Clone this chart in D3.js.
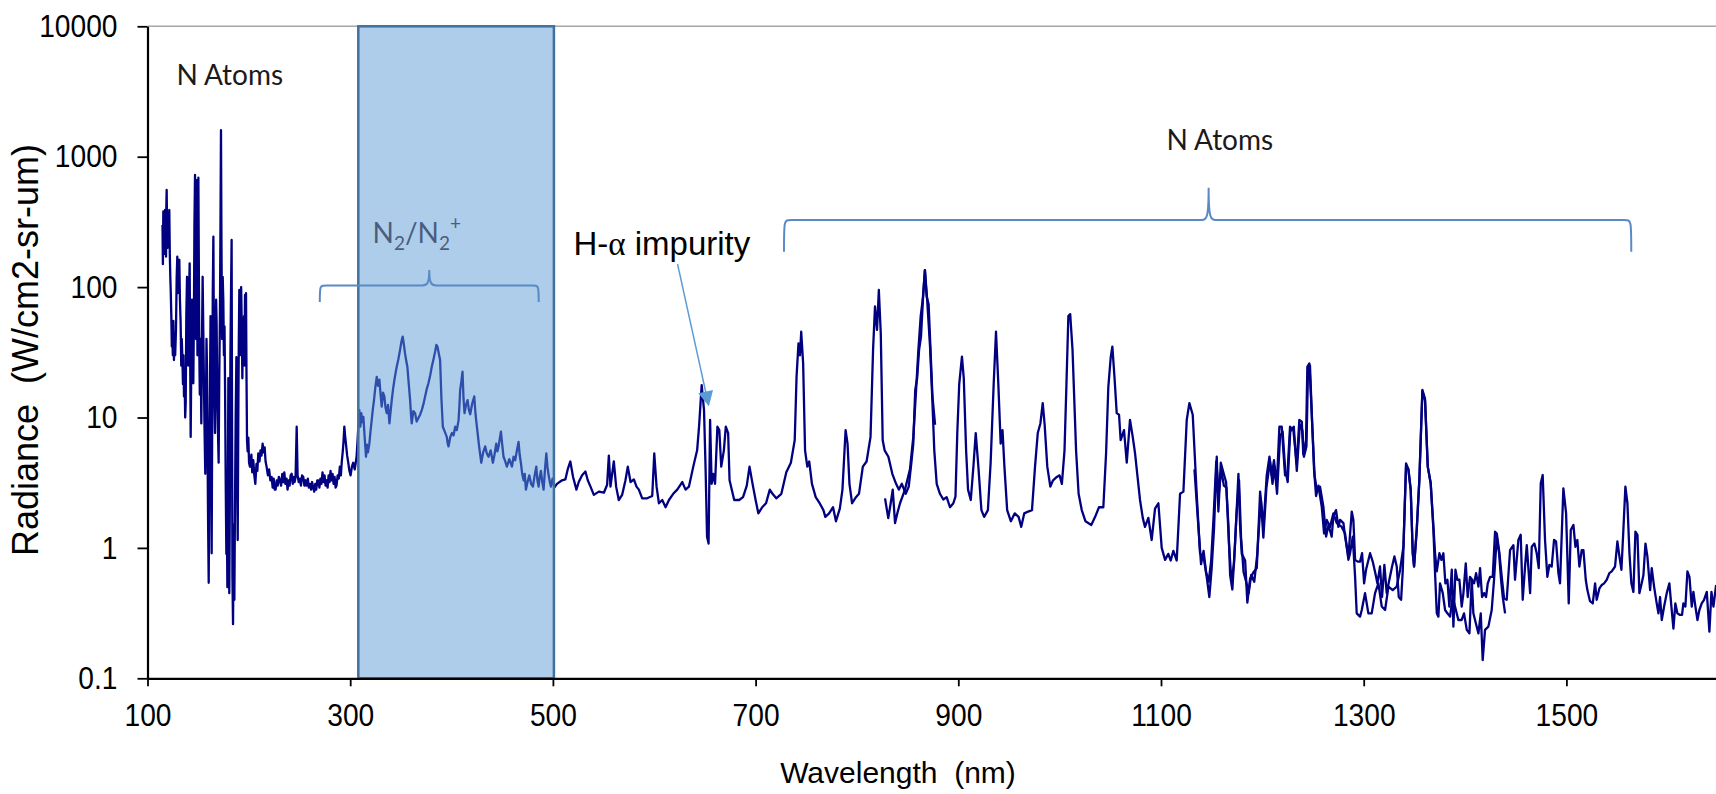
<!DOCTYPE html>
<html>
<head>
<meta charset="utf-8">
<script src="https://cdn.jsdelivr.net/npm/d3@7"></script>
<style>
  body { margin: 0; background: #fff; }
  svg { display: block; }
  text { font-family: "Liberation Sans", Arial, sans-serif; }
</style>
</head>
<body>
<svg id="chart" width="1716" height="794"></svg>
<script>
// spectrum pieces, [wavelength nm, radiance W/cm2-sr-um]
const segA = [
  [114.8,300],[115.2,150],[115.6,380],[116,210],[116.5,330],[117,180],[117.3,390],[117.8,240],[118.3,171],
  [118.6,420],[118.9,556],[119.3,300],[119.8,200],[120.3,360],[120.8,260],[121.5,390],[122,180],[122.5,120],
  [122.9,95],[123.5,60],[124,35],[124.5,42],[125,30],[125.5,55],[126.1,27.6],[126.7,45],[127.3,30],[128.1,47],
  [128.8,120],[129.4,171],[130,90],[130.6,150],[131.4,162],[132,80],[132.7,53],[133.3,25],[133.8,40],[134.4,29],
  [135,18],[135.5,30],[136,14.5],[136.5,22],[137.2,10],[137.7,12.9],[138.3,60],[139,120],[139.6,70],[140.1,25],
  [140.6,42],[141.1,100],[141.6,152],[142.1,30],[142.6,7.1],[143.2,25],[143.9,80],[144.5,40],[145.2,18.3],
  [145.8,60],[146.3,300],[146.9,725],[147.3,120],[147.8,40],[148.5,660],[149,80],[149.3,30],[149.7,200],
  [150.2,690],[150.7,120],[151.1,33],[151.6,15],[152.2,40],[152.7,20],[153.1,9],[153.6,30],[154.4,120],
  [155,50],[155.7,18],[156.3,8],[157,3.7],[157.6,10],[158.2,40],[158.7,24.6],[159.3,5],[159.8,1.5],[160.4,0.54],
  [161,5],[161.7,18],[162.2,60],[162.7,6],[163.3,0.91],[163.8,8],[164.4,90],[165,244],[165.5,40],[166,15],
  [166.6,7.6],[167.2,30],[167.7,80],[168.2,53],[168.8,15],[169.5,8],[170.2,4.5],[170.8,20],[171.5,63],
  [172,300],[172.5,1600],[173,200],[173.6,40],[174.2,120],[174.8,80],[175.4,30],[176,50],[176.5,18],[177.2,3],
  [177.8,0.9],[178.3,2],[178.8,0.5],[179.3,3],[179.8,20],[180.2,5],[180.7,0.45],[181.2,2],[181.8,30],[182.4,90],
  [183,230],[183.4,10],[183.8,0.6],[184.4,0.26],[185,1.5],[185.7,0.4],[186.3,2],[187,10],[187.7,29],[188.3,5],
  [189,1.15],[189.6,10],[190.1,40],[190.6,95],[191.2,30],[191.8,60],[192.4,100],[193,50],[193.6,20],[194.1,45],
  [194.6,33],[195.2,60],[195.7,25],[196.2,87],[196.7,40],[197.2,90],[197.7,20],[198.2,6.7],[198.8,5.5],
  [199.5,7],[200.2,4.5],
  [201.1,4.2],[202.5,5.2],[203.3,3.8],[204.4,4.7],[205.4,3.6],[206.4,3.1],[207.5,4.4],[208.4,3.9],[209.3,5.3],
  [210.5,4.6],[211.5,5.6],[212.5,5.1],[213.6,6.3],[214.6,5.4],[215.6,5.9],[216.5,4.6],[217.5,4.2],[218.8,3.6],
  [220,4.0],[221.2,3.3],[222.5,3.5],[223.5,2.9],[224.5,3.4],[225.5,2.8],[226.4,2.8],[227.5,3.3],[228.5,3.0],
  [229.6,3.5],[230.7,3.3],[231.8,3.0],[233,3.7],[234,3.2],[235,3.8],[236,3.1],[237.2,3.4],[238.2,2.8],
  [239.2,3.3],[240.2,3.0],[241.2,3.6],[242.2,3.7],[243.3,3.1],[244.3,3.5],[245.2,3.2],[246.1,3.5],[247.2,8.5],
  [248.1,3.6],[249.2,3.2],[250.3,3.4],[251.4,3.0],[252.5,3.6],[253.7,3.5],[254.8,3.0],[255.9,3.3],[257,3.0],
  [258.2,3.4],[259.2,2.9],[260.3,3.1],[261.4,2.8],[262.4,3.2],[263.5,2.9],[264.5,2.7],[265.5,3.1],[266.5,2.8],
  [267.5,3.3],[268.5,3.3],[269.6,2.9],[270.6,3.4],[271.6,3.1],[272.7,3.8],[273.7,3.2],[274.7,3.6],[275.7,3.0],
  [276.7,3.3],[277.7,2.9],[278.7,3.6],[279.6,3.2],[280.6,3.9],[281.6,3.3],[282.6,3.7],[283.6,3.1],[284.6,3.5],
  [285.6,2.9],[286.5,3.0],[287.6,3.6],[288.7,3.4],[289.8,4.2],[290.8,3.6],[291.7,4.6],[292.5,5.3],[293.4,6.5],
  [294.2,8.5],[295,7.2],[295.8,6.3],[297,5.1],[298.1,4.5],[299.2,3.9],[300.4,3.6],[301.7,4.2],[303,4.5],
  [304.5,4.0],[306.3,5.0],[307.2,6.5],[308,8.5],
  [309,11.4],[310,8.5],[311,10.8],[312,9.2],[313,10.1],[314.3,7],[315.6,5.0],[316.5,6.2],[317.5,5.4],
  [318.9,6.3],[320,7.8],[321.2,9.5],[322.3,11.5],[323.5,13.6],[324.8,17],[326.2,20.5],[327.5,17.5],[328.8,19.5],
  [330,15],[331.1,12.1],[332.4,15.5],[333.7,14.5],[334.8,12],[336,10.8],[337.3,12.5],[338.7,9.0],[339.8,11],
  [341,13.6],[342.3,16.5],[343.6,19.4],[344.8,22],[345.9,24.5],[347.5,28],[349.2,33],[350.5,38],[351.8,41.7],
  [353,36],[354.1,31],[355.2,27.5],[356.4,24.5],[357.8,18],[359.1,13.6],[360,10.5],[360.7,9],[362.3,11.2],
  [364,10.8],[365.6,9.3],[367.3,9.9],[369,10.5],[370.6,11.4],[372.2,12.6],[373.9,14.5],[375.5,16.5],[377.2,18.3],
  [378.9,21],[380.5,24.5],[382.2,28],[383.8,32],[385,36],[386.1,35],[387.4,31],[388.7,27.6],[390,14],[391.4,8.5],
  [393.3,7.8],[395.3,7.1],[396.2,6.3],[397,6.0],[398.6,7.0],[400.3,7.6],[402,7.3],[403.6,8.5],[405.2,8.0],
  [406.9,9.5],[407.7,12],[408.5,16.3],[409.7,19],[410.8,22.5],[411.8,14],[412.8,10.8],[414.3,12.5],[415.8,13.6],
  [417.1,11.5],[418.4,10.6],[420.4,12.8],[422.4,14.5],[423.7,10.5],[425,8.5],[427.2,6],[429.3,4.5],[431.2,5.4],
  [433.2,6.0],[434.8,5.3],[436.5,5.0],[438.6,5.6],[440.8,4.5],[442.4,5.2],[444.1,6.3],[445.2,5.5],[446.4,6.0],
  [447.5,6.8],[448.7,7.8],[450,6.2],[451.3,5.0],[453,4.6],[454.6,4.2],[457,4.8],[459.6,4.2],[461.2,5.0],
  [462.8,4.7],[464.5,5.6],[466.1,6.5],[467.2,5.2],[468.4,4.5],[469.7,3.7],[471.1,3.3],[472.2,3.7],[473.4,2.8],
  [475,3.2],[476.7,3.6],[478.5,3.1],[480.3,2.95],[482,3.6],[483.6,4.2],[484.7,3.3],[485.9,2.95],[487,3.5],
  [488.2,3.9],[489.5,3.2],[490.8,2.8],[492.2,4.0],[493.5,5.3],[494.6,4.2],[495.8,3.6],[497,3.2],[498.1,2.95],
  [499.7,3.4],[501.4,2.9],
  [504,3.1],[509,3.3],[512.3,3.35],[514.6,4.0],[517.2,4.6],[519.9,3.5],[523.2,2.8],[525.5,3.2],[528.8,3.6],
  [532.1,3.85],[534.4,3.3],[537.1,2.95],[540.4,2.55],[545.3,2.7],[550.3,2.65],[553.5,3.05],[555.2,5.1],
  [556.8,2.95],[560.1,4.6],[562.4,2.95],[565,2.33],[568.3,2.55],[571.6,3.3],[573.9,4.2],[576.6,3.2],[579.9,3.35],
  [582.5,2.95],[584.8,2.8],[588.1,2.4],[593,2.4],[598,2.5],[600,5.3],[602.3,2.95],[604.6,2.2],[607.9,2.33],
  [611.2,2.05],[614.5,2.33],[618.7,2.6],[622.7,2.8],[627.6,3.2],[630.9,2.8],[634.2,2.95],[638.5,4.2],
  [642.3,5.6],[644.2,8.5],[646.8,17.7],[649.1,11.4],[650.6,4.2],[652.1,1.22],[653.6,1.08],[655.1,9.6],
  [656.6,3.1],[658.2,3.7],[660,3.1],[662.3,8.5],[664.2,8],[666.1,4.2],[668.7,5.6],[670.6,8.5],[672.9,7.6],
  [674.3,3.3],[678.9,2.33],[683.8,2.33],[687.6,2.45],[691.3,3.0],[694,4.2],[697,3.1],[700,2.33],[702.7,1.84],
  [706.5,2.05],[710.3,2.2],[714,2.8],[716.7,2.6],[720.4,2.4],[725.4,2.6],[730.3,3.8],[734.8,4.5],[738.6,6.7],
  [740.4,20.5],[742.3,37],[743.8,30],[745,45.5],[746.9,26],[748.8,5.6],[751,4.2],[752.9,4.6],[755.6,3.1],
  [759.3,2.45],[763.2,2.2],[766.9,1.95],[768.8,1.73],[772.5,1.84],[776.4,2.05],[779.3,1.6],[783.1,2.0],
  [785.7,2.8],[788.8,8],[790.7,6.3],[792.6,3.1],[795.2,2.2],[799,2.45],[802,2.6],[805.8,4.2],[809.5,4.6],
  [813.4,7.1],[815.9,33],[817.8,71],[819.8,47],[821.6,95],[823.5,44],[825.4,6.7],[827.3,5.6],[831,5.0],
  [834.9,3.7],[838.6,3.1],[841.3,2.8],[844.3,3.1],[848.1,2.6],[851.1,2.95],[853.7,4.5],[855.6,6.3],
  [857.5,16.3],[859.4,20],[861.3,33],[863.2,41.7],[865.1,80],[867,135],[868.8,85],[870.7,74],[872.6,33],
  [874.5,14.5],[877.1,8.8]
];

const segB = [
  [827.7,2.4],[830.9,1.69],[833.3,2.2],[835.3,2.8],[837.6,1.55],[839.9,1.85],[842.5,2.2],[847.4,2.8],
  [852.3,4.0],[855.6,7.1],[858.3,16],[860.5,32],[862.9,60],[864.9,80],[867.1,135],[869.4,77],[872.1,35],
  [874.4,13.6],[876.3,5.6],[878.7,3.1],[881.9,2.6],[885.2,2.35],[888.5,2.45],[891.8,2.05],[895.1,2.2],
  [897.2,2.47],[899,7.6],[900.9,18],[903.6,29.3],[905.4,20],[907.7,5.6],[909.6,2.8],[912.3,2.33],[914.9,4.2],
  [917.2,7.6],[919.8,4.2],[922.8,1.95],[925.5,1.73],[929.2,1.95],[931.9,4.5],[934.9,18],[937.2,45.5],
  [939.5,18],[941.8,6.3],[943.6,8],[945.5,4.2],[948.2,1.95],[951.9,1.6],[955.7,1.84],[959.5,1.73],[962.1,1.45],
  [965.1,1.84],[968.9,1.9],[972.7,1.95],[975.7,4.2],[978.4,7.6],[981,9.0],[983.3,12.9],[985.2,8.8],[987.8,4.2],
  [990.8,2.95],[993.5,3.3],[997.2,3.5],[999.9,3.6],[1002.2,3.1],[1004.8,5.6],[1006.7,18],[1008.6,60],
  [1010.4,62],[1012.7,33],[1016.2,5.6],[1018.7,2.6],[1021.8,1.95],[1025.5,1.6],[1031.2,1.5],[1035,1.73],
  [1038.8,2.05],[1043.1,2.05],[1045.8,5.3],[1048,17],[1050.4,29],[1052,35],[1054,21],[1056.3,10.8],
  [1058.6,10.5],[1060.2,6.7],[1063.5,8],[1066.2,4.5],[1069.4,9.6],[1072.1,7.1],[1074.4,5.3],[1076.7,3.6],
  [1079.3,2.33],[1082,1.7],[1084.2,1.45],[1087.5,1.7],[1090.8,1.15],[1094.1,2.0],[1097.4,2.2],[1100.7,1.0],
  [1104,0.81],[1107.2,0.9],[1109.6,0.8],[1112.2,0.95],[1115.5,0.8],[1118.8,2.6],[1122.1,2.7],[1125.4,9.6],
  [1128,12.9],[1131.3,10.5],[1135.2,2.6],[1138.5,0.91],[1142.5,0.81],[1145.1,0.6],[1147.7,0.42],[1150,0.7],
  [1152.3,1.4],[1155,5.0],[1156.6,1.9],[1159,4.5],[1161.5,3.8],[1164.2,3.2],[1166.5,1.5],[1168.2,0.62],
  [1170.4,0.48],[1173.1,1.1],[1176.4,3.7],[1178,1.5],[1179.7,0.9],[1183,0.8],[1185.2,0.38],[1187.9,0.58],
  [1191.2,0.65],[1194.5,0.7],[1197.8,2.7],[1201.1,1.45],[1204.3,3.6],[1207,5.0],[1209.3,3.6],[1211.5,4.7],
  [1214.2,3.0],[1216.8,8.5],[1219.1,8.5],[1222.4,3.6],[1224.7,3.6],[1227.3,8.5],[1230.6,8.0],[1233.9,4.4],
  [1236.5,9.6],[1238.9,9.3],[1240.4,5.2],[1243.1,6.7],[1244.4,24.5],[1246.4,26],[1248.7,11],[1251,4.0],
  [1253,2.5],[1255.3,3.0],[1258.6,2.07],[1260.9,1.29],[1263.5,1.64],[1266.8,1.45],[1270.1,1.84],[1273.4,1.55],
  [1278.3,1.45],[1281.6,1.29],[1284.9,0.81],[1286.5,0.91],[1289.2,1.22],[1291.5,0.6],[1293.1,0.315],
  [1296.4,0.297],[1298.1,0.334],[1301.3,0.45],[1304.6,0.315],[1307.9,0.315],[1311.2,0.45],[1314.5,0.535],
  [1317.8,0.355],[1321.1,0.334],[1324.4,0.505],[1328.6,0.475],[1332.6,0.505],[1335.9,0.68],[1339.2,1.02],
  [1341.8,4.45],[1344.1,4.0],[1346.4,2.78],[1348.4,0.91],[1349.7,0.72],[1352.3,1.37],[1354.9,3.32],
  [1357.9,16.3],[1360.5,13.9],[1363.2,4.2],[1366.1,3.13],[1368.8,1.37],[1370.4,0.64],[1372.1,0.315],
  [1373.7,0.297],[1375.3,0.535],[1378,0.45],[1380.3,0.334],[1382.6,0.315],[1385.2,0.297],[1387.8,0.42],
  [1390.1,0.355],[1393.4,0.28],[1396.7,0.28],[1399,0.315],[1401.7,0.235],[1404.3,0.221],[1406.6,0.57],
  [1408.2,0.315],[1410.9,0.26],[1413.2,0.221],[1415.5,0.315],[1417.4,0.138],[1419.7,0.235],[1423,0.249],
  [1426.3,0.334],[1428.6,0.57],[1431.3,1.22],[1433.6,0.91],[1435.5,0.57],[1437.2,0.42],[1439.5,0.315]
];

const segC = [
  [1133,4.0],[1136.5,1.6],[1139.5,0.75],[1142,0.95],[1144.5,0.65],[1147,0.55],[1149.5,0.8],[1152,1.8],
  [1154.5,4.6],[1157,2.6],[1159.5,4.0],[1162,3.0],[1164.5,2.9],[1167,1.1],[1169.5,0.55],[1172,0.75],
  [1174.5,1.8],[1177,3.3],[1179,1.2],[1181.5,0.65],[1184,0.55],[1186.5,0.45],[1189,0.62],[1192,0.55],
  [1195,0.9],[1198.5,2.4],[1201,1.2],[1204,2.9],[1207.5,4.6],[1210,3.1],[1212,4.2],[1214.5,2.6],[1217.5,7.2],
  [1220,7.8],[1222.5,4.0],[1225,3.2],[1227.5,7.8],[1231,8.5],[1234,3.9],[1237,8.8],[1239.5,8.0],[1241,5.0],
  [1243.5,6.0],[1245,22],[1247,25],[1249,9.5],[1251.5,3.6],[1254,2.7],[1256.9,2.95],[1260.2,2.07],
  [1262.9,1.22],[1265.2,1.5],[1268.4,1.22],[1270.1,1.75],[1272.7,1.95],[1275,1.45],[1276.7,1.64],[1280,1.55],
  [1281.6,1.22],[1284.9,0.86],[1288.2,1.9],[1289.8,1.64],[1291.5,0.81],[1294.1,0.785],[1296.4,0.785],
  [1298.4,0.91],[1300.4,0.535],[1302.3,0.68],[1306.3,0.91],[1308.9,0.785],[1311.5,0.64],[1313.5,0.535],
  [1316.1,0.72],[1318.1,0.42],[1320.4,0.74],[1322.7,0.45],[1325.3,0.57],[1328,0.72],[1330.3,0.86],
  [1332.6,0.72],[1334.6,0.42],[1336.9,0.4],[1338.5,0.66],[1340.1,1.64],[1341.8,4.3],[1344.1,4.0],
  [1346.4,2.78],[1348.4,0.91],[1349.7,0.72],[1352.3,1.37],[1354.9,3.32],[1357.9,15.9],[1360.5,13.5],
  [1363.2,4.2],[1366.1,3.13],[1368.8,1.45],[1370.4,0.91],[1372.1,0.66],[1374.7,0.91],[1376.7,0.81],
  [1378.6,0.91],[1380.6,0.535],[1382.6,0.57],[1384.5,0.355],[1386.9,0.68],[1388.5,0.249],[1390.5,0.68],
  [1392.4,0.57],[1394.4,0.57],[1396.7,0.355],[1398.4,0.45],[1400.7,0.76],[1402.6,0.42],[1404.9,0.6],
  [1406.9,0.57],[1408.9,0.535],[1410.9,0.64],[1413.2,0.505],[1414.8,0.7],[1416.8,0.42],[1418.8,0.45],
  [1420.7,0.42],[1422.4,0.535],[1424.7,0.6],[1427.3,0.6],[1429.6,1.33],[1431.3,1.29],[1433.9,0.91],
  [1436.2,0.6],[1438.5,0.41],[1441.1,0.4],[1444.4,0.96],[1447.7,1.05],[1449.3,0.57],[1452.6,1.15],
  [1454.9,1.26],[1456.9,0.4],[1459.2,0.72],[1460.9,1.05],[1464.2,0.45],[1465.8,1.02],[1468.4,1.08],
  [1470.7,0.91],[1472.7,0.7],[1474.7,3.13],[1476.6,3.62],[1478.9,1.15],[1481.2,0.6],[1483.2,0.74],
  [1485.5,0.72],[1487.8,1.15],[1489.8,1.12],[1492.1,0.64],[1493.7,0.535],[1497,2.86],[1499.7,1.84],
  [1502.3,0.375],[1504.3,1.37],[1506.9,1.5],[1508.9,1.02],[1510.8,1.15],[1512.8,0.72],[1515.1,0.96],
  [1516.8,0.96],[1519.1,0.57],[1520.7,0.475],[1523.3,0.39],[1526,0.375],[1528.3,0.535],[1529.9,0.4],
  [1532.6,0.49],[1534.9,0.52],[1537.2,0.535],[1539.8,0.57],[1542.4,0.64],[1544.7,0.66],[1548,0.72],
  [1550.3,1.12],[1552.3,0.86],[1554.3,0.68],[1556.2,1.37],[1558.2,2.95],[1560.2,2.2],[1562.2,0.91],
  [1564.1,0.535],[1566.1,0.46],[1568.1,1.33],[1570.1,1.26],[1572,0.45],[1574.3,0.535],[1576,0.62],
  [1578,1.08],[1579.9,0.86],[1582.6,0.475],[1584.2,0.7],[1586.5,0.505],[1589.1,0.375],[1590.8,0.315],
  [1592.4,0.42],[1594.1,0.28],[1596.4,0.355],[1599,0.45],[1601.6,0.535],[1603.6,0.355],[1605.6,0.24],
  [1607.5,0.375],[1609.5,0.315],[1612.1,0.306],[1614.1,0.306],[1615.4,0.375],[1617.4,0.355],[1619.4,0.66],
  [1621.4,0.6],[1623.7,0.355],[1625.3,0.46],[1627.3,0.355],[1629.3,0.28],[1631.2,0.334],[1633.5,0.375],
  [1635.8,0.4],[1638.5,0.46],[1641.1,0.228],[1643.1,0.46],[1645.1,0.355],[1647.7,0.52]
];

const xTicks = [100, 300, 500, 700, 900, 1100, 1300, 1500];
const yTicks = [0.1, 1, 10, 100, 1000, 10000];
const band = [308, 501];            // N2 / N2+ shaded range, nm
const braces = [
  { from: 270, to: 486, mid: 378, level: 103, end: 77, tip: 135 },
  { from: 728, to: 1564, mid: 1147, level: 327, end: 187, tip: 578 }
];
const arrow = { from: [623, 150], to: [653.6, 12.5] };

const svg = d3.select("#chart");
const x = d3.scaleLinear().domain([100, 1647.6]).range([147.5, 1716]);
const y = d3.scaleLog().domain([0.1, 10000]).range([678.3, 26.3]);
const line = d3.line().x(d => x(d[0])).y(d => y(d[1]));

// top frame line
svg.append("line")
  .attr("x1", x(100)).attr("x2", x(1647.6))
  .attr("y1", y(10000)).attr("y2", y(10000))
  .attr("stroke", "#a6a6a6").attr("stroke-width", 1.5);

function drawSeg(data) {
  svg.append("path").datum(data)
    .attr("d", line)
    .attr("fill", "none")
    .attr("stroke", "#000080")
    .attr("stroke-width", 2.3)
    .attr("stroke-linejoin", "round");
}

drawSeg(segA);

// shaded band sits on top of the UV spectrum
svg.append("rect")
  .attr("x", x(band[0])).attr("width", x(band[1]) - x(band[0]))
  .attr("y", y(10000)).attr("height", y(0.1) - y(10000))
  .attr("fill", "#5b9bd5").attr("fill-opacity", 0.5)
  .attr("stroke", "#41719c").attr("stroke-width", 2.5);

drawSeg(segB);
drawSeg(segC);

// axes
const xAxis = svg.append("g")
  .attr("transform", `translate(0,${y(0.1)})`)
  .call(d3.axisBottom(x).tickValues(xTicks).tickSize(8).tickSizeOuter(0).tickPadding(17).tickFormat(d3.format("d")));
const yAxis = svg.append("g")
  .attr("transform", `translate(${x(100)},0)`)
  .call(d3.axisLeft(y).tickValues(yTicks).tickSize(10).tickSizeOuter(0).tickPadding(20).tickFormat(d => String(d)));

[xAxis, yAxis].forEach(g => {
  g.select(".domain").attr("stroke", "#000").attr("stroke-width", 2.2);
  g.selectAll(".tick line").attr("stroke", "#000").attr("stroke-width", 1.8);
  g.selectAll(".tick text")
    .attr("fill", "#000")
    .style("font-family", "'Liberation Sans', Arial, sans-serif")
    .style("font-size", "32px")
    .each(function () {
      // narrow the digits a little, like the condensed labels of the original
      const w = this.getComputedTextLength();
      d3.select(this).attr("textLength", w * 0.88).attr("lengthAdjust", "spacingAndGlyphs");
    });
});

// axis titles
svg.append("text")
  .attr("x", 898).attr("y", 783)
  .attr("text-anchor", "middle")
  .style("font-size", "30px").style("white-space", "pre")
  .text("Wavelength  (nm)");

svg.append("text")
  .attr("transform", "translate(38,350) rotate(-90)")
  .attr("text-anchor", "middle")
  .style("font-size", "36px").style("white-space", "pre")
  .text("Radiance  (W/cm2-sr-um)");

// braces
function bracePath(b) {
  const x1 = x(b.from), x2 = x(b.to), xm = x(b.mid);
  const yl = y(b.level), ye = y(b.end), yt = y(b.tip);
  const r = 7;
  return `M${x1},${ye} C${x1},${yl} ${x1},${yl} ${x1 + r},${yl} L${xm - r},${yl} ` +
    `C${xm - 2},${yl} ${xm},${yl - 2} ${xm},${yt} C${xm},${yl - 2} ${xm + 2},${yl} ${xm + r},${yl} ` +
    `L${x2 - r},${yl} C${x2},${yl} ${x2},${yl} ${x2},${ye}`;
}
svg.selectAll("path.brace").data(braces).join("path")
  .attr("class", "brace")
  .attr("d", bracePath)
  .attr("fill", "none")
  .attr("stroke", "#5a8ac6")
  .attr("stroke-width", 2);

// labels
const calibri = "Lato, 'Open Sans', sans-serif";
svg.append("text")
  .attr("x", x(128.5)).attr("y", y(3550))
  .style("font-family", calibri).style("font-size", "28px").attr("fill", "#1a1a1a")
  .text("N Atoms");
svg.append("text")
  .attr("x", x(1158)).attr("y", y(1125))
  .attr("text-anchor", "middle")
  .style("font-family", calibri).style("font-size", "28px").attr("fill", "#1a1a1a")
  .text("N Atoms");

const n2 = svg.append("text")
  .attr("x", x(322)).attr("y", y(218))
  .style("font-family", calibri).style("font-size", "28px").attr("fill", "#4a5d7e");
n2.append("tspan").text("N");
n2.append("tspan").attr("dy", 7).style("font-size", "19px").text("2");
n2.append("tspan").attr("dy", -7).text("/N");
n2.append("tspan").attr("dy", 7).style("font-size", "19px").text("2");
n2.append("tspan").attr("dy", -20).style("font-size", "19px").text("+");

const ha = svg.append("text")
  .attr("x", x(520.3)).attr("y", y(176))
  .style("font-size", "33px").attr("fill", "#000");
ha.append("tspan").text("H-");
ha.append("tspan").style("font-family", "'Liberation Serif', serif").text("\u03b1");
ha.append("tspan").text(" impurity");

// arrow to the H-alpha line
svg.append("defs").append("marker")
  .attr("id", "head").attr("viewBox", "0 0 10 10")
  .attr("refX", 9).attr("refY", 5)
  .attr("markerWidth", 18).attr("markerHeight", 15)
  .attr("markerUnits", "userSpaceOnUse")
  .attr("orient", "auto")
  .append("path").attr("d", "M0,0 L10,5 L0,10 Z").attr("fill", "#5b9bd5");
svg.append("line")
  .attr("x1", x(arrow.from[0])).attr("y1", y(arrow.from[1]))
  .attr("x2", x(arrow.to[0])).attr("y2", y(arrow.to[1]))
  .attr("stroke", "#5b9bd5").attr("stroke-width", 1.5)
  .attr("marker-end", "url(#head)");
</script>
</body>
</html>
